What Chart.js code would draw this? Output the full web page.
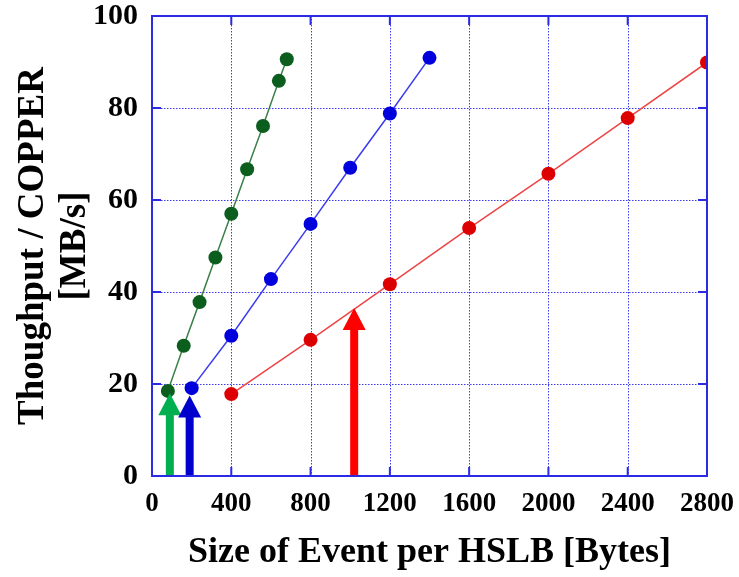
<!DOCTYPE html>
<html>
<head>
<meta charset="utf-8">
<script src="https://cdn.jsdelivr.net/npm/chart.js@4"></script>
<style>
  html, body { margin: 0; padding: 0; background: #fff; }
  #wrap { width: 739px; height: 577px; }
</style>
</head>
<body>
<div id="wrap"><canvas id="chart" width="739" height="577"></canvas></div>
<script>
"use strict";

// Throughput vs event size, three HSLB configurations.

const greenX = [80, 160, 240, 320, 400, 480, 560, 640, 680];
const greenY = [18.5, 28.3, 37.8, 47.5, 57.0, 66.7, 76.1, 85.9, 90.6];
const blueX = [200, 400, 600, 800, 1000, 1200, 1400];
const blueY = [19.1, 30.5, 42.8, 54.8, 67.0, 78.8, 90.9];
const redX = [400, 800, 1200, 1600, 2000, 2400, 2800];
const redY = [17.8, 29.6, 41.7, 53.9, 65.7, 77.8, 89.9];

// arrows from the x axis up to a marked throughput
const arrowX = [90, 190, 1020];
const arrowTip = [18, 17.5, 36.5];
const arrowColors = ["#00b050", "#0000cc", "#ff0000"];

const xTicks = [0, 400, 800, 1200, 1600, 2000, 2400, 2800];
const yTicks = [0, 20, 40, 60, 80, 100];

const FRAME = "#2b2be6";
const GRID = "#3b3bf0";
const SERIF = "'Liberation Serif', 'Times New Roman', serif";

const toPoints = (xs, ys) => xs.map((x, i) => ({ x, y: ys[i] }));

function series(label, xs, ys, line, dot) {
  return {
    label,
    data: toPoints(xs, ys),
    showLine: true,
    borderColor: line,
    borderWidth: 1.5,
    backgroundColor: dot,
    pointBackgroundColor: dot,
    pointBorderColor: dot,
    pointRadius: 7,
    pointBorderWidth: 0,
  };
}

// dotted grid under the data
const gridPlugin = {
  id: "dotgrid",
  beforeDatasetsDraw(chart) {
    const { ctx, chartArea: a, scales } = chart;
    ctx.save();
    ctx.strokeStyle = GRID;
    ctx.lineWidth = 1;
    ctx.setLineDash([1.5, 1.5]);
    ctx.beginPath();
    for (const v of xTicks) {
      const px = Math.round(scales.x.getPixelForValue(v)) + 0.5;
      ctx.moveTo(px, a.top); ctx.lineTo(px, a.bottom);
    }
    for (const v of yTicks) {
      const py = Math.round(scales.y.getPixelForValue(v)) + 0.5;
      ctx.moveTo(a.left, py); ctx.lineTo(a.right, py);
    }
    ctx.stroke();
    ctx.restore();
  },
};

// frame on all four sides + inward tick marks + arrows
const framePlugin = {
  id: "frame",
  afterDatasetsDraw(chart) {
    const { ctx, chartArea: a, scales } = chart;
    ctx.save();
    ctx.strokeStyle = FRAME;
    ctx.lineWidth = 2;
    ctx.strokeRect(a.left, a.top, a.right - a.left, a.bottom - a.top);
    ctx.beginPath();
    const len = 9;
    for (const v of xTicks) {
      const px = scales.x.getPixelForValue(v);
      ctx.moveTo(px, a.bottom); ctx.lineTo(px, a.bottom - len);
      ctx.moveTo(px, a.top); ctx.lineTo(px, a.top + len);
    }
    for (const v of yTicks) {
      const py = scales.y.getPixelForValue(v);
      ctx.moveTo(a.left, py); ctx.lineTo(a.left + len, py);
      ctx.moveTo(a.right, py); ctx.lineTo(a.right - len, py);
    }
    ctx.stroke();

    arrowX.forEach((xv, i) => {
      const px = scales.x.getPixelForValue(xv);
      const base = scales.y.getPixelForValue(0);
      const tip = scales.y.getPixelForValue(arrowTip[i]);
      const headH = 22, headW = 23, shaft = 8;
      ctx.fillStyle = arrowColors[i];
      ctx.fillRect(px - shaft / 2, tip + headH - 1, shaft, base - tip - headH);
      ctx.beginPath();
      ctx.moveTo(px, tip);
      ctx.lineTo(px + headW / 2, tip + headH);
      ctx.lineTo(px - headW / 2, tip + headH);
      ctx.closePath();
      ctx.fill();
    });
    ctx.restore();
  },
};

new Chart(document.getElementById("chart"), {
  type: "scatter",
  data: {
    datasets: [
      series("green", greenX, greenY, "#3b8048", "#0b5e1e"),
      series("blue", blueX, blueY, "#3c3cee", "#0000dd"),
      series("red", redX, redY, "#ee4444", "#dd0000"),
    ],
  },
  options: {
    responsive: false,
    animation: false,
    layout: { padding: { top: 16, right: 32, left: 0, bottom: 0 } },
    plugins: { legend: { display: false }, tooltip: { enabled: false } },
    scales: {
      x: {
        type: "linear",
        min: 0,
        max: 2800,
        afterBuildTicks: (s) => { s.ticks = xTicks.map((v) => ({ value: v })); },
        afterFit: (s) => { s.height = 101; s.paddingLeft = 0; s.paddingRight = 0; },
        grid: { display: false },
        border: { display: false },
        ticks: {
          color: "#000", padding: 4, maxRotation: 0,
          callback: (v) => String(v),
          font: { family: SERIF, size: 27, weight: "bold" },
        },
        title: {
          display: true,
          text: "Size of Event per HSLB [Bytes]",
          color: "#000",
          padding: { top: 0, bottom: 3 },
          font: { family: SERIF, size: 36, weight: "bold" },
        },
      },
      y: {
        type: "linear",
        min: 0,
        max: 100,
        afterBuildTicks: (s) => { s.ticks = yTicks.map((v) => ({ value: v })); },
        afterFit: (s) => { s.width = 152; s.paddingTop = 0; s.paddingBottom = 0; },
        grid: { display: false },
        border: { display: false },
        ticks: {
          color: "#000", padding: 6,
          callback: (v) => String(v),
          font: { family: SERIF, size: 30, weight: "bold" },
        },
        title: {
          display: true,
          text: ["Thoughput / COPPER", "[MB/s]"],
          color: "#000",
          padding: { top: 12, bottom: 0 },
          font: { family: SERIF, size: 37, weight: "bold", lineHeight: 1.14 },
        },
      },
    },
  },
  plugins: [gridPlugin, framePlugin],
});
</script>
</body>
</html>
